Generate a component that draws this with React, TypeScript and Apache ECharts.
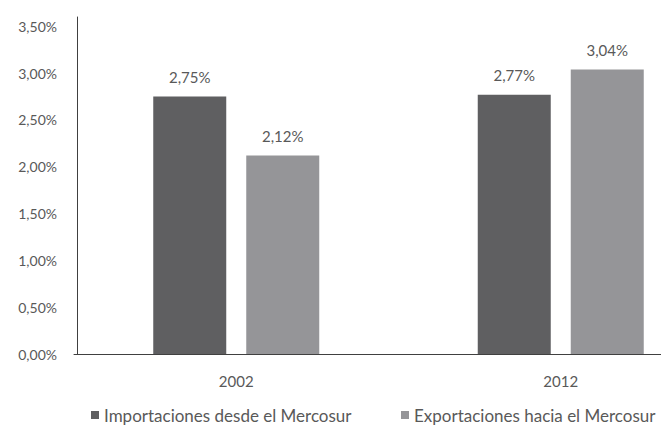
import React, { useEffect, useRef } from "react";
import * as echarts from "echarts";

const categories = ["2002", "2012"];
const importaciones = [2.75, 2.77];
const exportaciones = [2.12, 3.04];
const seriesNames = ["Importaciones desde el Mercosur", "Exportaciones hacia el Mercosur"];

const fmt = (v: number) => v.toFixed(2).replace(".", ",") + "%";
const FONT = "Lato";
const TEXT = "#595959";

export default function App() {
  const ref = useRef<HTMLDivElement>(null);
  useEffect(() => {
    if (!ref.current) return;
    const chart = echarts.init(ref.current, undefined, { renderer: "svg" });
    const label = {
      show: true,
      position: "top",
      distance: 12,
      color: TEXT,
      fontFamily: FONT,
      fontSize: 15,
      formatter: (p: any) => fmt(p.value),
    };
    const legendText = { color: TEXT, fontFamily: FONT, fontSize: 17, lineHeight: 18 };
    chart.setOption({
      animation: false,
      backgroundColor: "#ffffff",
      textStyle: { fontFamily: FONT },
      grid: { left: 74, top: 17, right: 0, bottom: 75, containLabel: false },
      legend: [
        {
          left: 91,
          top: 406,
          padding: 0,
          itemWidth: 8,
          itemHeight: 8,
          icon: "rect",
          textStyle: legendText,
          data: [seriesNames[0]],
        },
        {
          left: 401,
          top: 406,
          padding: 0,
          itemWidth: 8,
          itemHeight: 8,
          icon: "rect",
          textStyle: legendText,
          data: [seriesNames[1]],
        },
      ],
      xAxis: {
        type: "category",
        data: categories,
        axisLine: { lineStyle: { color: "#404040", width: 1 } },
        axisTick: { show: false },
        axisLabel: { color: TEXT, fontFamily: FONT, fontSize: 15, margin: 19 },
      },
      yAxis: {
        type: "value",
        min: 0,
        max: 3.6,
        interval: 0.5,
        offset: -3,
        axisLine: { show: true, lineStyle: { color: "#404040", width: 1 } },
        axisTick: { show: false },
        splitLine: { show: false },
        axisLabel: {
          color: TEXT,
          fontFamily: FONT,
          fontSize: 14,
          margin: 20,
          showMaxLabel: false,
          formatter: (v: number) => (v > 3.55 ? "" : fmt(v)),
        },
      },
      series: [
        {
          name: seriesNames[0],
          type: "bar",
          data: importaciones,
          barWidth: 73,
          barGap: "27.4%",
          itemStyle: { color: "#5f5f61" },
          label,
        },
        {
          name: seriesNames[1],
          type: "bar",
          data: exportaciones,
          barWidth: 73,
          itemStyle: { color: "#959598" },
          label,
        },
      ],
    });
    return () => chart.dispose();
  }, []);
  return (
    <div style={{ width: 661, height: 429, position: "absolute", left: 0, top: 0, overflow: "hidden", background: "#fff" }}>
      <div ref={ref} style={{ width: 723, height: 429 }} />
    </div>
  );
}
